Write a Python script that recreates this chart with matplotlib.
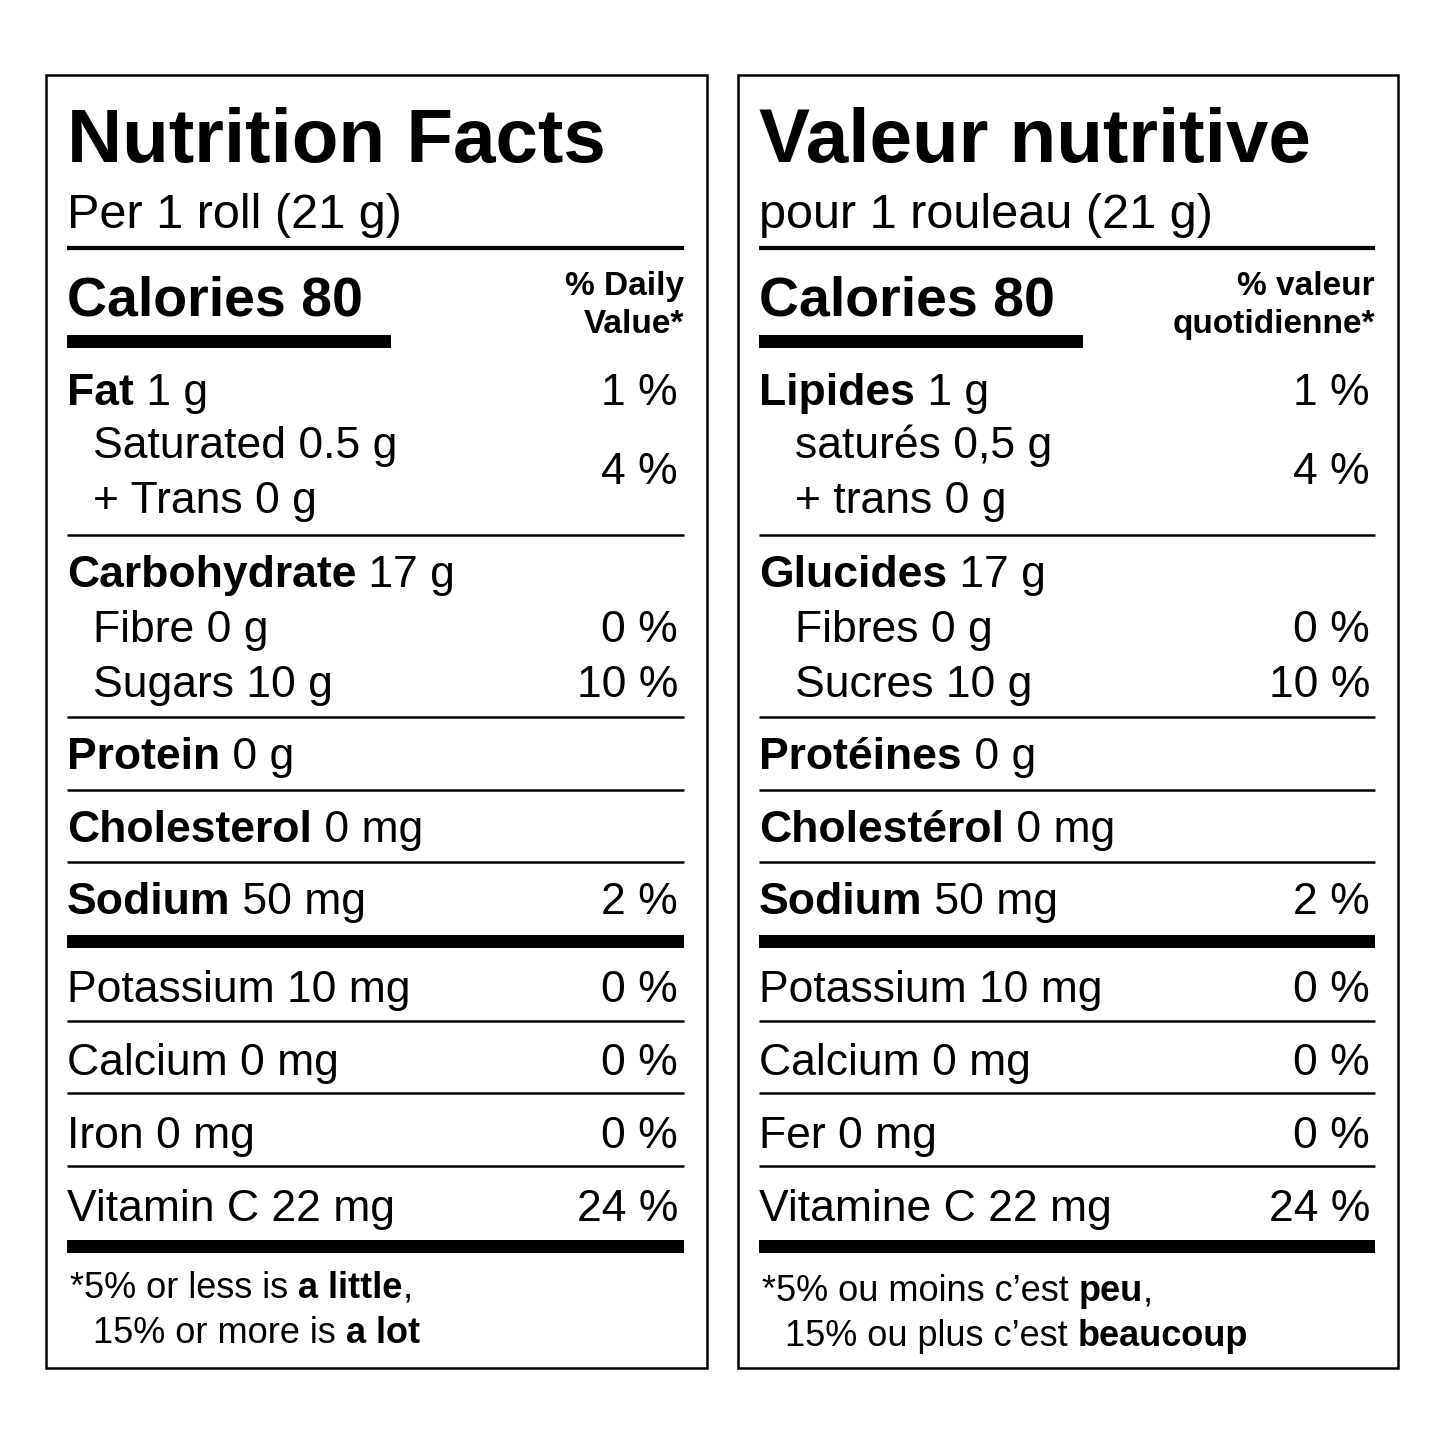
import matplotlib
matplotlib.use("Agg")
import matplotlib.pyplot as plt
from matplotlib.patches import Rectangle

FONT = "Liberation Sans"
NARROW = ["Liberation Sans Narrow", "Liberation Sans"]

titles = ["Nutrition Facts", "Valeur nutritive"]
servings = ["Per 1 roll (21 g)", "pour 1 rouleau (21 g)"]
calories = ["Calories 80", "Calories 80"]
dv_head = [["% Daily", "Value*"], ["% valeur", "quotidienne*"]]
# (bold part, normal part, percent, indent, baseline)
rows_en = [
    ("Fat", " 1 g", "1 %", False, 405),
    ("", "Saturated 0.5 g", "", True, 458),
    ("", "+ Trans 0 g", "", True, 513),
    ("Carbohydrate", " 17 g", "", False, 587),
    ("", "Fibre 0 g", "0 %", True, 642),
    ("", "Sugars 10 g", "10 %", True, 697),
    ("Protein", " 0 g", "", False, 769),
    ("Cholesterol", " 0 mg", "", False, 842),
    ("Sodium", " 50 mg", "2 %", False, 914),
    ("", "Potassium 10 mg", "0 %", False, 1002),
    ("", "Calcium 0 mg", "0 %", False, 1075),
    ("", "Iron 0 mg", "0 %", False, 1148),
    ("", "Vitamin C 22 mg", "24 %", False, 1221),
]
rows_fr = [
    ("Lipides", " 1 g", "1 %", False, 405),
    ("", "saturés 0,5 g", "", True, 458),
    ("", "+ trans 0 g", "", True, 513),
    ("Glucides", " 17 g", "", False, 587),
    ("", "Fibres 0 g", "0 %", True, 642),
    ("", "Sucres 10 g", "10 %", True, 697),
    ("Protéines", " 0 g", "", False, 769),
    ("Cholestérol", " 0 mg", "", False, 842),
    ("Sodium", " 50 mg", "2 %", False, 914),
    ("", "Potassium 10 mg", "0 %", False, 1002),
    ("", "Calcium 0 mg", "0 %", False, 1075),
    ("", "Fer 0 mg", "0 %", False, 1148),
    ("", "Vitamine C 22 mg", "24 %", False, 1221),
]
sat_pct = "4 %"
foot_en = [[("*5% or less is ", False), ("a little", True), (",", False)],
           [("15% or more is ", False), ("a lot", True)]]
foot_fr = [[("*5% ou moins c’est ", False), ("peu", True), (",", False)],
           [("15% ou plus c’est ", False), ("beaucoup", True)]]

thin_lines = [535, 717, 790, 862, 1021, 1093, 1166]

fig = plt.figure(figsize=(14.45, 14.45), dpi=100)
ax = fig.add_axes([0, 0, 1, 1])
ax.set_xlim(0, 1445)
ax.set_ylim(1445, 0)
ax.axis("off")
r = fig.canvas.get_renderer()

def seq(x, y, parts, size, family):
    for txt, b in parts:
        t = ax.text(x, y, txt, fontsize=size, family=family,
                    fontweight="bold" if b else "normal", va="baseline", ha="left")
        bb = t.get_window_extent(renderer=r)
        x = ax.transData.inverted().transform((bb.x1, bb.y0))[0]

def panel(x0, x1, rows, k, foot, pctx):
    ax.add_patch(Rectangle((x0, 75), x1 - x0, 1293, fill=False, lw=1.8, ec="black"))
    L = x0 + 21
    R = x1 - 23
    ax.text(L, 162, titles[k], fontsize=55, fontweight="bold", family=FONT, va="baseline")
    ax.text(L, 228, servings[k], fontsize=35, family=FONT, va="baseline")
    ax.plot([L, R], [248, 248], color="black", lw=3, solid_capstyle="butt")
    ax.text(L, 316, calories[k], fontsize=40, fontweight="bold", family=FONT, va="baseline")
    ax.add_patch(Rectangle((L, 335), (391 - 67), 13, color="black", lw=0))
    ax.text(R, 295, dv_head[k][0], fontsize=24, fontweight="bold", family=FONT, va="baseline", ha="right")
    ax.text(R, 333, dv_head[k][1], fontsize=24, fontweight="bold", family=FONT, va="baseline", ha="right")
    for b, n, p, ind, y in rows:
        x = L + (26 if ind else 0) + (10 if ind and k == 1 else 0)
        parts = ([(b, True)] if b else []) + [(n, False)]
        seq(x, y, parts, 32, FONT)
        if p:
            ax.text(pctx, y, p, fontsize=32, family=FONT, va="baseline", ha="right")
    ax.text(pctx, 484, sat_pct, fontsize=32, family=FONT, va="baseline", ha="right")
    for y in thin_lines:
        ax.plot([L, R], [y, y], color="black", lw=1.8, solid_capstyle="butt")
    ax.add_patch(Rectangle((L, 935), R - L, 13, color="black", lw=0))
    ax.add_patch(Rectangle((L, 1240), R - L, 13, color="black", lw=0))
    seq(L + 3, 1298 + (3 if k else 0), foot[0], 26, NARROW)
    seq(L + 26, 1343 + (3 if k else 0), foot[1], 26, NARROW)

panel(46, 707, rows_en, 0, foot_en, 678)
panel(738, 1398, rows_fr, 1, foot_fr, 1370)

fig.savefig("out.png", dpi=100, facecolor="white")
